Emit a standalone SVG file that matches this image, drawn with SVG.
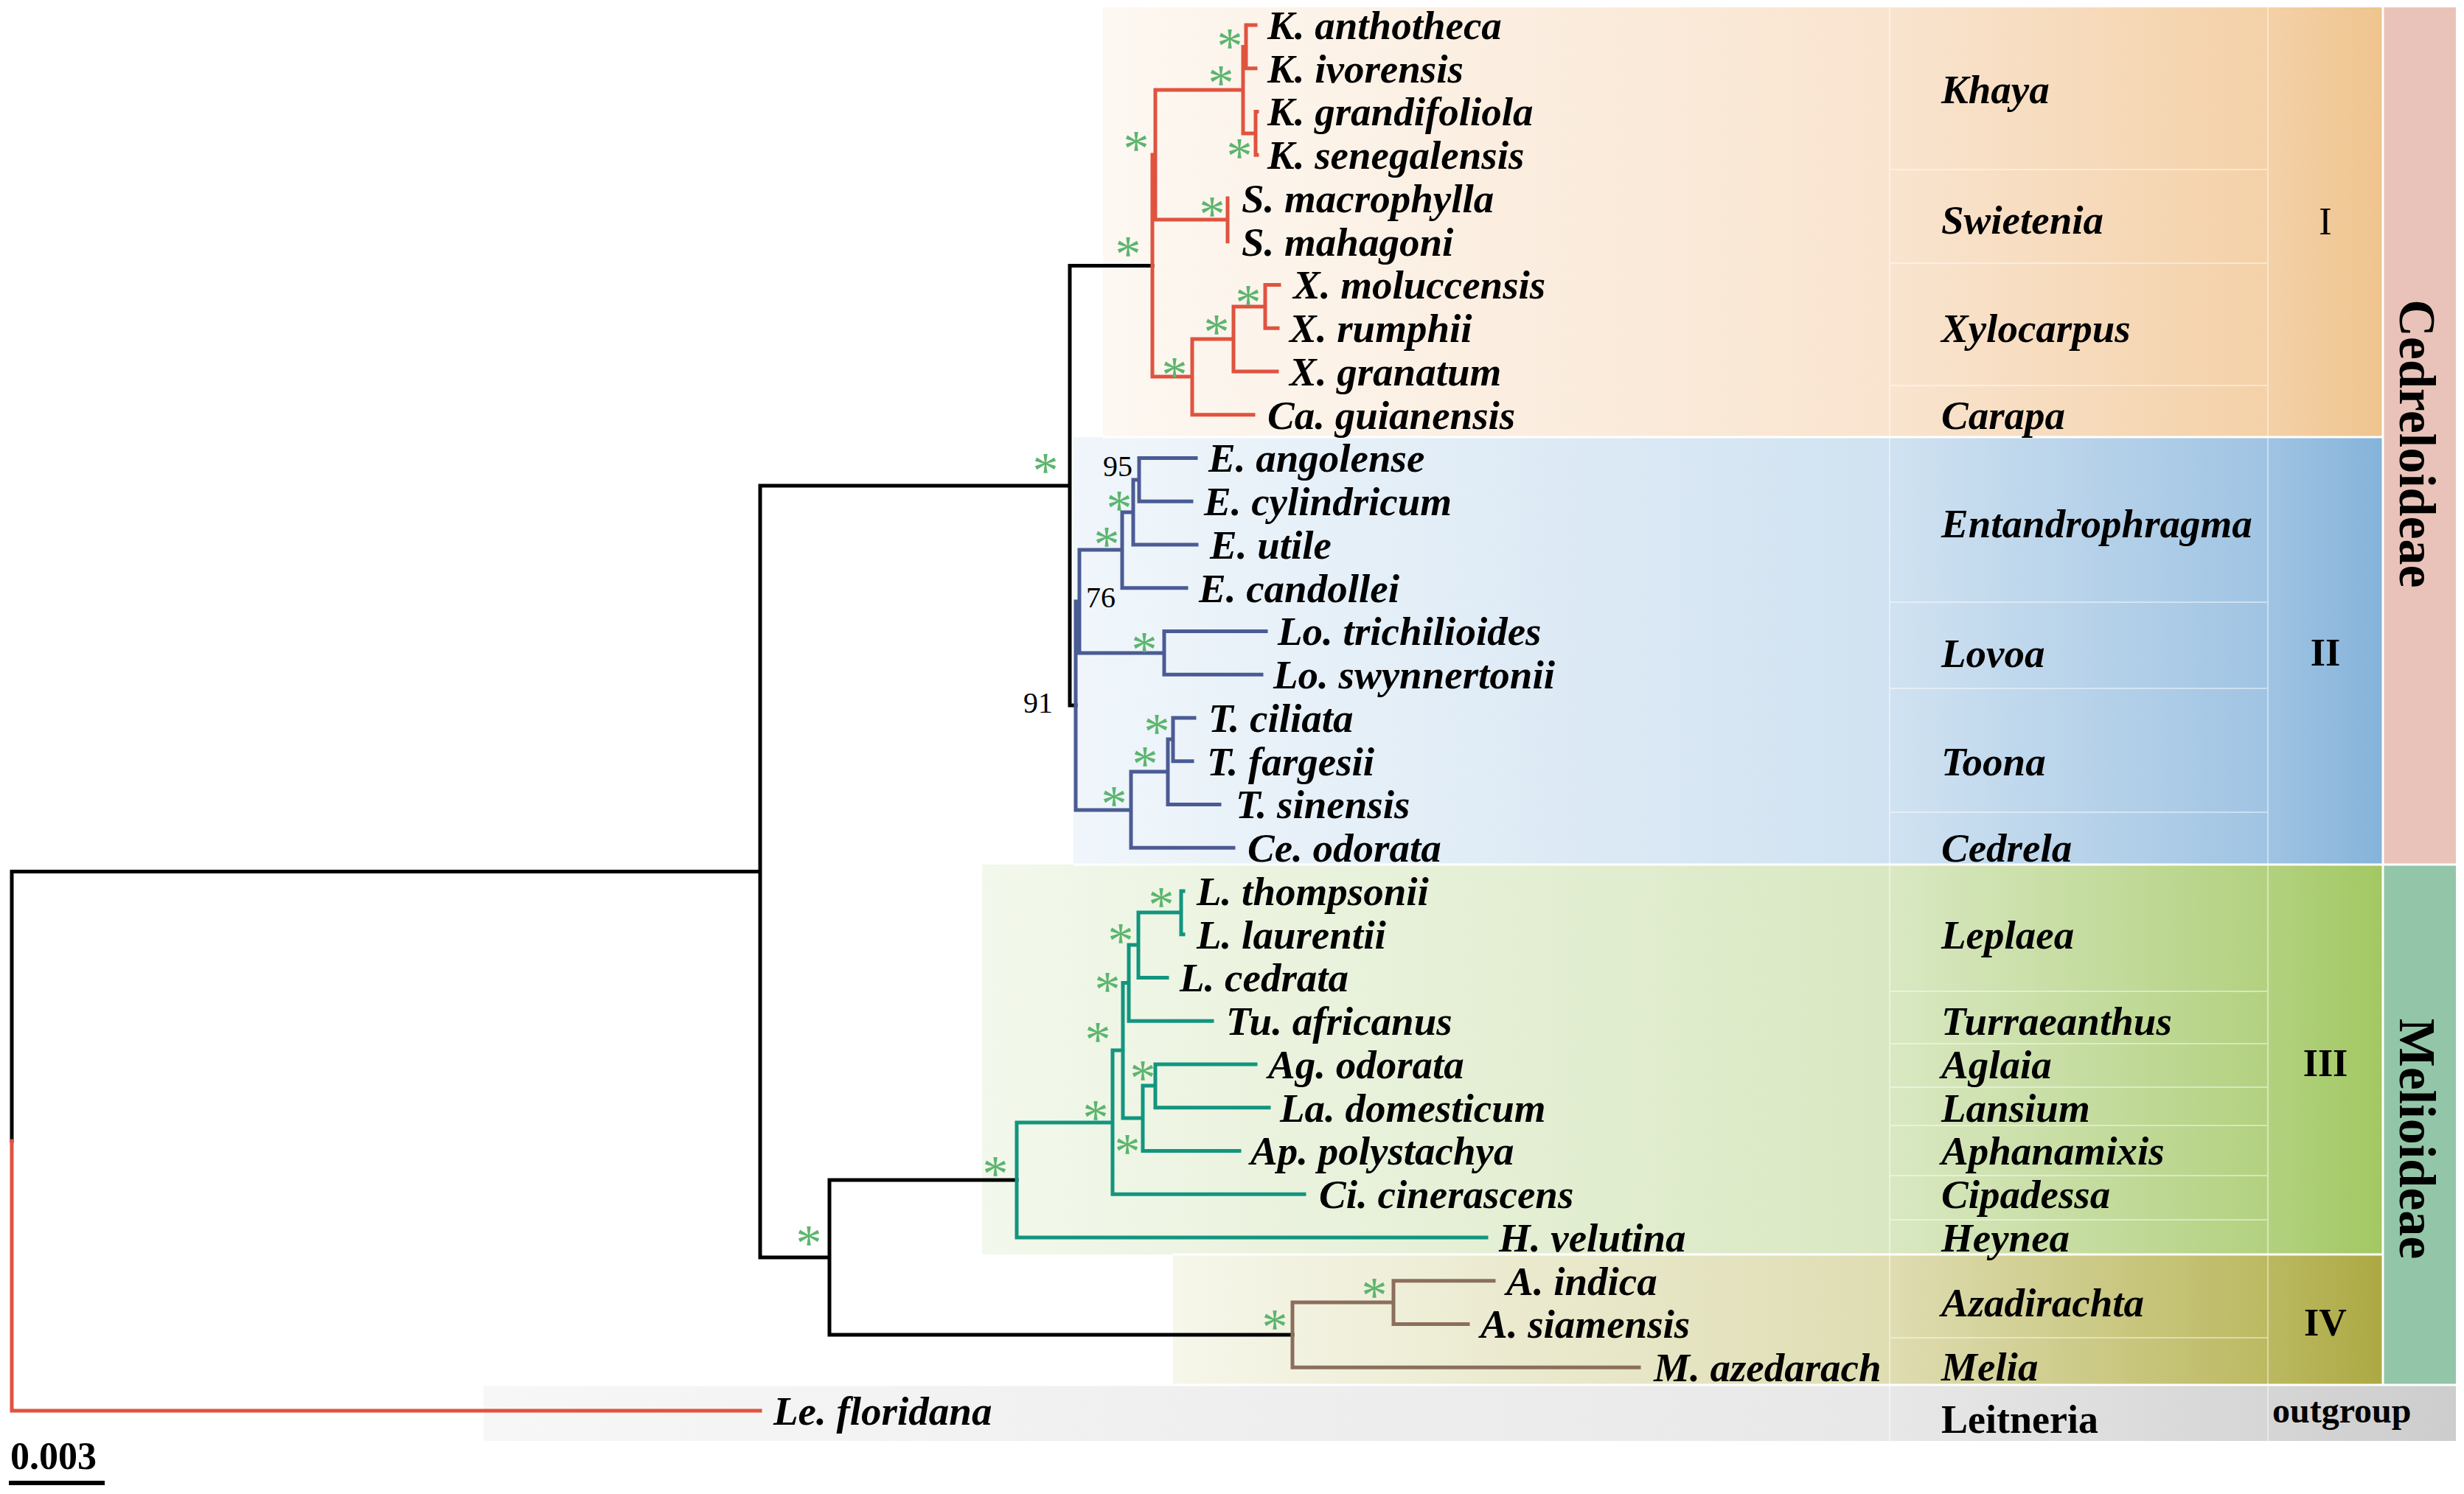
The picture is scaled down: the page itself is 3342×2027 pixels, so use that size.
<svg xmlns="http://www.w3.org/2000/svg" width="3342" height="2027" viewBox="0 0 3342 2027">
<style>
text{font-family:"Liberation Serif","Times New Roman",serif;fill:#000}
.sp{font-style:italic;font-weight:bold;font-size:55px}
.gn{font-style:italic;font-weight:bold;font-size:55px}
.cl{font-weight:bold;font-size:52px;text-anchor:middle}
.clr{font-weight:normal;font-size:52px;text-anchor:middle}
.sf{font-weight:bold;font-size:70px;text-anchor:middle}
.num{font-size:40px}
.ast{font-size:70px;fill:#5cb56e;text-anchor:middle}
.br{fill:none;stroke-width:5;stroke-linecap:square}
.k{stroke:#000}
.r{stroke:#e0533f}
.b{stroke:#4a5b94}
.t{stroke:#12957f}
.w{stroke:#8b6f5c}
.div{stroke:#ffffff;stroke-opacity:0.45;stroke-width:2;fill:none}
.sep{stroke:#ffffff;stroke-width:3;fill:none}
</style>
<defs>
<linearGradient id="gI" gradientUnits="userSpaceOnUse" x1="1496" y1="0" x2="3232" y2="0">
<stop offset="0" stop-color="#fdf8f2"/><stop offset="0.615" stop-color="#f9e4cf"/><stop offset="0.91" stop-color="#f4d1a8"/><stop offset="1" stop-color="#efc48e"/>
</linearGradient>
<linearGradient id="gII" gradientUnits="userSpaceOnUse" x1="1456" y1="0" x2="3232" y2="0">
<stop offset="0" stop-color="#f0f6fb"/><stop offset="0.625" stop-color="#d0e2f1"/><stop offset="0.91" stop-color="#a0c4e3"/><stop offset="1" stop-color="#85b3da"/>
</linearGradient>
<linearGradient id="gIII" gradientUnits="userSpaceOnUse" x1="1332" y1="0" x2="3232" y2="0">
<stop offset="0" stop-color="#f3f8ec"/><stop offset="0.65" stop-color="#d9e8c2"/><stop offset="0.92" stop-color="#b2d17f"/><stop offset="1" stop-color="#a2c862"/>
</linearGradient>
<linearGradient id="gIV" gradientUnits="userSpaceOnUse" x1="1591" y1="0" x2="3232" y2="0">
<stop offset="0" stop-color="#f6f6ea"/><stop offset="0.59" stop-color="#dfddb2"/><stop offset="0.9" stop-color="#bcba62"/><stop offset="1" stop-color="#aca944"/>
</linearGradient>
<linearGradient id="gO" gradientUnits="userSpaceOnUse" x1="656" y1="0" x2="3331" y2="0">
<stop offset="0" stop-color="#f7f7f7"/><stop offset="0.71" stop-color="#e8e8e8"/><stop offset="0.9" stop-color="#d6d6d6"/><stop offset="1" stop-color="#cdcdcd"/>
</linearGradient>
</defs>
<rect width="3342" height="2027" fill="#ffffff"/>

<g id="backgrounds">
<rect x="1496" y="10" width="1736" height="583" fill="url(#gI)"/>
<rect x="1456" y="593" width="1776" height="580" fill="url(#gII)"/>
<rect x="1332" y="1173" width="1900" height="529" fill="url(#gIII)"/>
<rect x="1591" y="1702" width="1641" height="177" fill="url(#gIV)"/>
<rect x="656" y="1879" width="2675" height="76" fill="url(#gO)"/>
<rect x="3232" y="10" width="99" height="1163" fill="#e9c3b9"/>
<rect x="3232" y="1173" width="99" height="706" fill="#93c6a8"/>
<path class="div" d="M2563 10V1955M3076 10V1955M2563 230H3076M2563 357H3076M2563 523H3076M2563 817H3076M2563 934H3076M2563 1102H3076M2563 1345H3076M2563 1416H3076M2563 1475H3076M2563 1527H3076M2563 1595H3076M2563 1655H3076M2563 1815H3076"/>
<path class="sep" d="M1496 593H3232M1456 1173H3331M1591 1702H3232M656 1879H3331M3232 10V1879"/>
</g>

<g id="connectors">
<path class="br k" d="M16 1182.5V1548M16 1182.5H1031M1031 659V1706M1031 659H1451M1451 360.5V957M1451 360.5H1563M1451 957H1459M1031 1706H1125M1125 1601V1811M1125 1601H1379M1125 1811H1753"/>
<path class="br r" d="M16 1548V1914H1031"/>
<path class="br r" d="M1563 210V511M1563 210H1567M1563 511H1617M1567 122V298M1567 122H1686M1567 298H1665M1686 63.4V181M1686 63.4H1690M1686 181H1703M1690 34V92.75M1690 34H1703M1690 92.75H1703M1703 151.5V210.25M1703 151.5H1705M1703 210.25H1705M1665 269V327.75M1617 460V562.75M1617 460H1673M1617 562.75H1700M1673 416V504M1673 416H1716M1673 504H1732M1716 386.5V445.25M1716 386.5H1735M1716 445.25H1733"/>
<path class="br b" d="M1459 816V1099M1459 816H1464M1459 1099H1534M1464 746V886M1464 746H1522M1464 886H1579M1522 695V797.75M1522 695H1537M1522 797.75H1609M1537 651V739M1537 651H1545M1537 739H1623M1545 621.5V680.25M1545 621.5H1622M1545 680.25H1616M1579 856.5V915.25M1579 856.5H1717M1579 915.25H1711M1534 1047V1150.25M1534 1047H1584M1534 1150.25H1673M1584 1003V1091.5M1584 1003H1591M1584 1091.5H1654M1591 974V1032.75M1591 974H1620M1591 1032.75H1617"/>
<path class="br t" d="M1379 1523V1679M1379 1523H1509M1379 1679H2016M1509 1425V1620.25M1509 1425H1523M1509 1620.25H1769M1523 1333.6V1517M1523 1333.6H1531M1523 1517H1550M1531 1282V1385.25M1531 1282H1544M1531 1385.25H1644M1544 1238V1326.5M1544 1238H1602M1544 1326.5H1583M1602 1209V1267.75M1602 1209H1605M1602 1267.75H1605M1550 1473V1561.5M1550 1473H1567M1550 1561.5H1681M1567 1444V1502.75M1567 1444H1703M1567 1502.75H1721"/>
<path class="br w" d="M1753 1767V1855.25M1753 1767H1890M1753 1855.25H2223M1890 1737.75V1796.5M1890 1737.75H2026M1890 1796.5H1991"/>
</g>

<g id="support">
<text class="ast" x="1668" y="86">*</text>
<text class="ast" x="1656" y="136">*</text>
<text class="ast" x="1541" y="225">*</text>
<text class="ast" x="1681" y="235">*</text>
<text class="ast" x="1644" y="314">*</text>
<text class="ast" x="1530" y="368">*</text>
<text class="ast" x="1693" y="434">*</text>
<text class="ast" x="1650" y="474">*</text>
<text class="ast" x="1593" y="532">*</text>
<text class="ast" x="1418" y="662">*</text>
<text class="ast" x="1518" y="713">*</text>
<text class="ast" x="1501" y="762">*</text>
<text class="ast" x="1552" y="905">*</text>
<text class="ast" x="1569" y="1016">*</text>
<text class="ast" x="1553" y="1060">*</text>
<text class="ast" x="1511" y="1114">*</text>
<text class="ast" x="1575" y="1251">*</text>
<text class="ast" x="1520" y="1300">*</text>
<text class="ast" x="1502" y="1366">*</text>
<text class="ast" x="1489" y="1434">*</text>
<text class="ast" x="1550" y="1486">*</text>
<text class="ast" x="1486" y="1540">*</text>
<text class="ast" x="1529" y="1586">*</text>
<text class="ast" x="1350" y="1616">*</text>
<text class="ast" x="1097" y="1710">*</text>
<text class="ast" x="1864" y="1781">*</text>
<text class="ast" x="1729" y="1824">*</text>
<text class="num" x="1496" y="646">95</text>
<text class="num" x="1473" y="824">76</text>
<text class="num" x="1388" y="967">91</text>
</g>

<g id="taxa">
<g id="t-k-anthotheca"><text class="sp" x="1719" y="53">K. anthotheca</text></g>
<g id="t-k-ivorensis"><text class="sp" x="1719" y="112">K. ivorensis</text></g>
<g id="t-k-grandifoliola"><text class="sp" x="1719" y="170">K. grandifoliola</text></g>
<g id="t-k-senegalensis"><text class="sp" x="1719" y="229">K. senegalensis</text></g>
<g id="t-s-macrophylla"><text class="sp" x="1684" y="288">S. macrophylla</text></g>
<g id="t-s-mahagoni"><text class="sp" x="1684" y="347">S. mahagoni</text></g>
<g id="t-x-moluccensis"><text class="sp" x="1754" y="405">X. moluccensis</text></g>
<g id="t-x-rumphii"><text class="sp" x="1749" y="464">X. rumphii</text></g>
<g id="t-x-granatum"><text class="sp" x="1749" y="523">X. granatum</text></g>
<g id="t-ca-guianensis"><text class="sp" x="1719" y="582">Ca. guianensis</text></g>
<g id="t-e-angolense"><text class="sp" x="1639" y="640">E. angolense</text></g>
<g id="t-e-cylindricum"><text class="sp" x="1633" y="699">E. cylindricum</text></g>
<g id="t-e-utile"><text class="sp" x="1641" y="758">E. utile</text></g>
<g id="t-e-candollei"><text class="sp" x="1626" y="817">E. candollei</text></g>
<g id="t-lo-trichilioides"><text class="sp" x="1733" y="875">Lo. trichilioides</text></g>
<g id="t-lo-swynnertonii"><text class="sp" x="1727" y="934">Lo. swynnertonii</text></g>
<g id="t-t-ciliata"><text class="sp" x="1639" y="993">T. ciliata</text></g>
<g id="t-t-fargesii"><text class="sp" x="1637" y="1052">T. fargesii</text></g>
<g id="t-t-sinensis"><text class="sp" x="1676" y="1110">T. sinensis</text></g>
<g id="t-ce-odorata"><text class="sp" x="1692" y="1169">Ce. odorata</text></g>
<g id="t-l-thompsonii"><text class="sp" x="1623" y="1228">L. thompsonii</text></g>
<g id="t-l-laurentii"><text class="sp" x="1623" y="1287">L. laurentii</text></g>
<g id="t-l-cedrata"><text class="sp" x="1600" y="1345">L. cedrata</text></g>
<g id="t-tu-africanus"><text class="sp" x="1663" y="1404">Tu. africanus</text></g>
<g id="t-ag-odorata"><text class="sp" x="1720" y="1463">Ag. odorata</text></g>
<g id="t-la-domesticum"><text class="sp" x="1736" y="1522">La. domesticum</text></g>
<g id="t-ap-polystachya"><text class="sp" x="1696" y="1580">Ap. polystachya</text></g>
<g id="t-ci-cinerascens"><text class="sp" x="1789" y="1639">Ci. cinerascens</text></g>
<g id="t-h-velutina"><text class="sp" x="2033" y="1698">H. velutina</text></g>
<g id="t-a-indica"><text class="sp" x="2043" y="1757">A. indica</text></g>
<g id="t-a-siamensis"><text class="sp" x="2008" y="1815">A. siamensis</text></g>
<g id="t-m-azedarach"><text class="sp" x="2243" y="1874">M. azedarach</text></g>
<g id="t-le-floridana"><text class="sp" x="1049" y="1933">Le. floridana</text></g>
</g>

<g id="genera">
<g id="g-khaya"><text class="gn" x="2633" y="140">Khaya</text></g>
<g id="g-swietenia"><text class="gn" x="2633" y="317">Swietenia</text></g>
<g id="g-xylocarpus"><text class="gn" x="2633" y="464">Xylocarpus</text></g>
<g id="g-carapa"><text class="gn" x="2633" y="582">Carapa</text></g>
<g id="g-entandrophragma"><text class="gn" x="2633" y="729">Entandrophragma</text></g>
<g id="g-lovoa"><text class="gn" x="2633" y="905">Lovoa</text></g>
<g id="g-toona"><text class="gn" x="2633" y="1052">Toona</text></g>
<g id="g-cedrela"><text class="gn" x="2633" y="1169">Cedrela</text></g>
<g id="g-leplaea"><text class="gn" x="2633" y="1287">Leplaea</text></g>
<g id="g-turraeanthus"><text class="gn" x="2633" y="1404">Turraeanthus</text></g>
<g id="g-aglaia"><text class="gn" x="2633" y="1463">Aglaia</text></g>
<g id="g-lansium"><text class="gn" x="2633" y="1522">Lansium</text></g>
<g id="g-aphanamixis"><text class="gn" x="2633" y="1580">Aphanamixis</text></g>
<g id="g-cipadessa"><text class="gn" x="2633" y="1639">Cipadessa</text></g>
<g id="g-heynea"><text class="gn" x="2633" y="1698">Heynea</text></g>
<g id="g-azadirachta"><text class="gn" x="2633" y="1786">Azadirachta</text></g>
<g id="g-melia"><text class="gn" x="2633" y="1873">Melia</text></g>
<g id="g-leitneria"><text x="2633" y="1944" style="font-weight:bold;font-size:54px">Leitneria</text></g>
</g>

<g id="clades">
<g id="c-I"><text class="clr" x="3154" y="318">I</text></g>
<g id="c-II"><text class="cl" x="3154" y="903">II</text></g>
<g id="c-III"><text class="cl" x="3154" y="1460">III</text></g>
<g id="c-IV"><text class="cl" x="3154" y="1812">IV</text></g>
<g id="c-outgroup"><text x="3082" y="1930" style="font-weight:bold;font-size:48px">outgroup</text></g>
</g>

<g id="subfamilies">
<g id="s-cedreloideae"><text class="sf" transform="translate(3255 602) rotate(90)">Cedreloideae</text></g>
<g id="s-melioideae"><text class="sf" transform="translate(3255 1545) rotate(90)">Melioideae</text></g>
</g>

<g id="scale">
<text x="14" y="1993" style="font-weight:bold;font-size:52px">0.003</text>
<path d="M12 2012H142" stroke="#000" stroke-width="6" fill="none"/>
</g>
</svg>
